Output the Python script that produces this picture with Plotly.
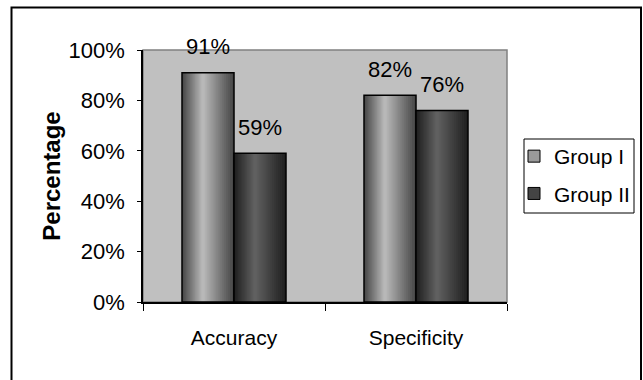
import plotly.graph_objects as go

categories = ["Accuracy", "Specificity"]
group_names = ["Group I", "Group II"]
group1_values = [0.91, 0.82]
group2_values = [0.59, 0.76]
y_tick_values = [0, 0.2, 0.4, 0.6, 0.8, 1.0]
y_tick_labels = ["0%", "20%", "40%", "60%", "80%", "100%"]

FONT = "Liberation Sans, Arial, sans-serif"

# Plot-area geometry (pixels)
L, R, T, B = 143, 507, 50, 302
W_FIG, H_FIG = 643, 380
PW, PH = R - L, B - T

BAR_W = 52 / 182.0  # bar width in category units

def hex2rgb(h):
    h = h.lstrip("#")
    return [int(h[i:i + 2], 16) for i in (0, 2, 4)]

def mix(c1, c2, t):
    a, b = hex2rgb(c1), hex2rgb(c2)
    return "rgb(%d,%d,%d)" % tuple(round(a[i] + (b[i] - a[i]) * t) for i in range(3))

fig = go.Figure()

styles = [
    dict(name=group_names[0], values=group1_values, base=-BAR_W, edge="#484848", center="#b8b8b8", legend="#9a9a9a"),
    dict(name=group_names[1], values=group2_values, base=0.0, edge="#202020", center="#606060", legend="#444444"),
]

N = 16
for s in styles:
    for k in range(N):
        f = 1 - k / N
        c = 0.4 + 0.1 * f
        left = c - f / 2
        t = k / (N - 1)
        fig.add_trace(go.Bar(
            x=categories, y=s["values"],
            offset=s["base"] + BAR_W * left, width=BAR_W * f,
            marker=dict(color=mix(s["edge"], s["center"], t), line=dict(width=0)),
            showlegend=False, hoverinfo="skip",
        ))
    # outline on top
    fig.add_trace(go.Bar(
        x=categories, y=s["values"], offset=s["base"], width=BAR_W,
        marker=dict(color="rgba(0,0,0,0)", line=dict(color="black", width=1.5)),
        showlegend=False, hoverinfo="skip",
    ))
    # legend entry
    fig.add_trace(go.Bar(
        x=categories, y=[None, None], name=s["name"], legendgroup=s["name"],
        marker=dict(color=s["legend"], line=dict(color="black", width=1)),
    ))

# data labels
for s in styles:
    for cat, v in zip(categories, s["values"]):
        fig.add_annotation(
            x=cat, y=v, text="%d%%" % round(v * 100), showarrow=False,
            xshift=(s["base"] + BAR_W / 2) * 182, yshift=26, yanchor="middle",
            font=dict(family=FONT, size=22, color="black"),
        )

# plot-area gray frame
fig.add_shape(type="rect", xref="paper", yref="paper", x0=0, x1=1, y0=0, y1=1,
              line=dict(color="#808080", width=1.5), layer="below")
# outer figure border
fig.add_shape(type="rect", xref="paper", yref="paper",
              x0=(11.5 - L) / PW, x1=(641 - L) / PW,
              y0=(B - 400) / PH, y1=(B - 7.5) / PH,
              line=dict(color="black", width=2))
# legend box
fig.add_shape(type="rect", xref="paper", yref="paper",
              x0=(524 - L) / PW, x1=(634 - L) / PW,
              y0=(B - 213) / PH, y1=(B - 139) / PH,
              line=dict(color="black", width=1), fillcolor="white", layer="above")

fig.update_layout(
    width=W_FIG, height=H_FIG,
    margin=dict(l=L, r=W_FIG - R, t=T, b=H_FIG - B, autoexpand=False),
    paper_bgcolor="white", plot_bgcolor="#c0c0c0",
    barmode="overlay",
    font=dict(family=FONT, size=21, color="black"),
    xaxis=dict(
        range=[-0.5, 1.5], tickson="boundaries", ticks="outside", ticklen=7,
        tickcolor="black", showline=True, linecolor="black", linewidth=1.5,
        showgrid=False, zeroline=False, ticklabelstandoff=16,
        tickfont=dict(family=FONT, size=21),
    ),
    yaxis=dict(
        range=[0, 1], tickvals=y_tick_values, ticktext=y_tick_labels,
        ticks="outside", ticklen=4, tickcolor="black", showline=True,
        linecolor="black", linewidth=1.5, showgrid=False, zeroline=False,
        ticklabelstandoff=8, tickfont=dict(family=FONT, size=22),
        title=dict(text="<b>Percentage</b>", font=dict(family=FONT, size=24), standoff=1),
    ),
    legend=dict(
        x=(514 - L) / PW, y=(B - 136) / PH, xanchor="left", yanchor="top",
        borderwidth=0, bgcolor="rgba(0,0,0,0)",
        font=dict(family=FONT, size=21), traceorder="grouped", tracegroupgap=7,
        itemwidth=30,
    ),
    showlegend=True,
)

fig.write_html("out.html")
